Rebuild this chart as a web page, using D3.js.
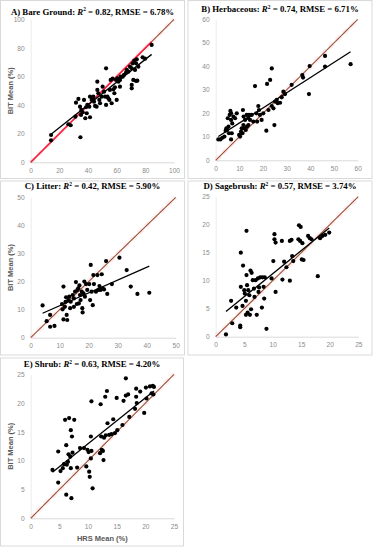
<!DOCTYPE html>
<html>
<head>
<meta charset="utf-8">
<script src="https://cdn.jsdelivr.net/npm/d3@7"></script>
<style>
  body { margin: 0; background: #fff; }
  svg { display: block; }
  .tick-label { font-family: "Liberation Sans", Arial, sans-serif; font-size: 6.6px; fill: #8c8c8c; }
  .axis-title { font-family: "Liberation Sans", Arial, sans-serif; font-size: 7.5px; font-weight: bold; fill: #595959; }
  .panel-title { font-family: "Liberation Serif", "Times New Roman", serif; font-size: 8.8px; font-weight: bold; fill: #000; }
</style>
</head>
<body>
<svg width="373" height="550"></svg>
<script>
// panel labels and stats
const panelNames = ["A) Bare Ground: ", "B) Herbaceous: ", "C) Litter: ", "D) Sagebrush: ", "E) Shrub: "]
const r2Values = ["0.82", "0.74", "0.42", "0.57", "0.63"]
const rmseValues = ["6.78%", "6.71%", "5.90%", "3.74%", "4.20%"]
const axisMax = [100, 60, 50, 25, 25]
const tickStep = [20, 10, 10, 5, 5]

// fitted trend lines
const trendSlope = [0.795, 0.646, 0.457, 0.824, 0.797]
const trendIntercept = [8.37, 9.39, 6.83, 3.02, 4.97]

// A) bare ground
const bareHRS = [14.2,14.2,26.3,27.9,31.2,31.6,33.3,34.4,34.7,35.3,35.1,36.3,37.2,38.1,38.6,39.5,41.4,40.9,42.6,43.3,43.7,44.2,44.9,46.0,46.5,46.5,47.2,47.9,48.4,49.5,50.2,51.2,51.9,52.6,52.6,53.5,54.2,54.9,55.8,56.5,57.2,57.7,58.4,58.8,59.5,60.5,61.2,62.3,62.8,64.2,65.1,66.5,67.0,68.1,69.3,70.5,71.2,70.5,70.5,71.6,72.3,72.8,73.5,74.0,73.5,74.4,75.1,78.1,79.8,84.4,60.0,62.3,55.3,41.4,39.1]
const bareBIT = [19.1,15.4,26.6,25.9,31.9,41.7,44.3,38.9,17.5,36.6,33.1,35.0,43.6,30.8,38.5,40.1,31.5,38.9,43.6,44.8,45.9,42.4,39.4,38.9,56.4,50.6,48.3,43.6,41.3,45.9,52.9,49.4,45.9,65.7,40.1,45.9,44.8,43.6,57.6,41.3,58.5,51.0,48.3,52.4,57.6,58.7,56.4,57.6,59.9,59.9,61.1,62.7,64.6,63.4,66.9,65.7,69.2,54.1,51.7,57.6,71.1,64.6,69.2,72.0,56.9,57.1,66.9,73.4,72.5,82.1,43.6,52.9,50.6,45.9,34.3]

// B) herbaceous
const herbHRS = [1.1,2.0,2.8,3.7,4.2,4.8,5.1,5.4,5.6,5.9,6.2,6.5,6.5,6.8,6.5,7.0,7.5,8.2,8.9,9.9,10.3,10.7,11.0,11.3,11.5,11.8,12.1,12.4,12.7,13.1,13.2,13.8,14.1,14.5,15.2,15.9,16.6,17.2,17.5,18.0,18.3,18.7,19.4,20.1,21.4,21.7,22.3,23.0,23.7,23.7,24.4,24.8,25.1,25.8,26.2,27.2,27.9,28.6,29.3,32.1,36.6,36.9,39.4,39.7,46.2,46.2,57.0,13.8,11.7,4.5]
const herbBIT = [8.9,8.9,9.6,10.1,12.6,12.9,17.9,14.3,11.5,19.3,21.0,20.0,17.2,11.5,8.9,15.7,18.6,17.9,20.0,10.8,10.1,12.2,13.6,11.5,21.4,18.6,13.6,17.2,12.9,19.3,14.3,17.9,19.3,17.2,19.3,16.5,31.6,20.0,16.5,23.1,21.4,19.3,17.2,20.0,12.6,32.5,21.4,34.2,39.1,23.1,22.1,15.0,25.0,25.7,24.3,24.5,26.8,29.2,28.2,32.1,36.3,35.2,28.2,40.1,39.9,44.4,40.9,15.0,15.0,13.6]

// C) litter
const litterHRS = [4.1,5.5,6.7,6.7,8.2,10.8,11.0,11.3,11.3,11.8,12.0,12.2,12.4,12.6,13.0,13.3,13.6,13.8,14.5,14.9,14.9,15.3,15.6,15.9,16.1,16.4,16.6,16.8,17.0,17.2,17.6,17.8,17.9,18.2,18.5,18.7,19.1,19.5,20.2,20.5,20.7,21.0,21.4,21.6,21.8,22.5,23.0,23.3,23.7,24.1,24.5,24.8,25.3,26.0,26.4,28.0,30.6,33.1,34.5,36.8,40.9]
const litterBIT = [11.5,5.9,8.1,3.9,4.2,12.0,10.1,18.2,6.5,11.0,12.8,14.4,8.1,6.3,13.4,14.6,10.5,12.8,15.2,14.0,11.0,16.4,19.8,12.0,17.0,17.6,12.2,18.6,15.2,13.4,16.4,10.5,9.0,15.8,20.0,14.6,19.1,17.0,19.1,13.4,25.9,16.4,11.6,22.3,19.1,16.4,22.3,17.0,18.4,17.0,22.6,17.6,17.2,27.3,15.6,19.1,28.5,24.1,18.2,15.6,16.0]

// D) sagebrush
const sageHRS = [1.8,2.7,2.9,3.6,4.3,4.3,4.4,4.4,4.7,4.8,5.0,5.1,5.3,5.3,5.4,5.4,5.5,5.6,5.7,5.9,6.0,6.1,6.2,6.3,6.5,6.7,6.8,7.0,7.2,7.4,7.5,7.6,7.8,8.1,8.2,8.4,8.5,8.6,8.9,9.8,10.1,10.3,10.3,10.5,10.5,11.6,11.7,12.0,12.4,13.0,13.0,13.3,13.4,13.6,14.5,14.6,14.8,14.9,15.1,15.2,15.4,16.2,16.5,16.8,17.9,18.3,18.7,19.2,19.9]
const sageBIT = [0.4,6.4,2.4,5.2,2.0,1.7,8.9,15.0,5.5,12.7,8.3,7.7,3.9,6.4,18.9,11.0,9.2,4.3,8.3,7.4,3.9,11.8,4.9,11.4,10.1,8.6,7.1,10.1,3.9,10.4,8.0,8.8,10.6,5.2,10.6,8.9,6.8,10.6,1.4,10.4,13.5,18.3,17.4,16.8,8.0,17.1,10.2,13.4,12.4,17.1,10.0,17.3,14.4,13.5,17.4,19.9,17.1,19.6,13.8,16.7,13.7,18.0,17.6,17.4,10.8,17.6,18.0,18.2,18.6]

// E) shrub
const shrubHRS = [3.8,4.8,4.8,5.2,5.6,5.8,6.0,6.2,6.2,6.3,6.5,6.6,6.7,6.9,7.0,7.0,7.1,7.2,7.3,7.6,8.1,8.6,9.3,9.7,9.9,10.1,10.2,10.3,10.5,10.5,10.6,10.6,10.8,12.1,12.2,12.3,12.4,12.6,12.7,12.8,13.0,13.1,13.3,13.4,13.7,14.1,14.4,14.7,15.0,15.1,16.0,16.2,16.6,16.6,17.0,17.2,18.2,18.4,18.4,18.5,19.1,19.8,20.1,20.2,20.8,21.1,21.3,21.5,21.4]
const shrubBIT = [8.4,11.6,6.2,8.2,8.7,9.4,17.1,12.7,4.1,9.3,9.8,11.1,17.4,10.7,15.3,8.7,3.5,14.2,11.4,17.1,8.8,12.2,12.2,9.0,11.9,11.5,8.1,7.2,14.2,10.4,20.3,11.7,5.2,11.3,19.8,14.2,11.9,11.7,10.1,14.0,21.1,14.4,22.1,16.5,14.5,14.6,17.2,14.8,20.9,15.3,16.2,20.4,24.3,21.3,21.5,17.6,19.0,22.5,21.1,20.0,22.0,18.3,22.7,20.8,22.9,21.7,23.0,22.8,21.5]

const seriesX = [bareHRS, herbHRS, litterHRS, sageHRS, shrubHRS]
const seriesY = [bareBIT, herbBIT, litterBIT, sageBIT, shrubBIT]

// panel geometry: plot box, frame box, title y, which axis titles
const panels = [
    {x0: 30.7, x1: 174,   y0: 162.3, y1: 19.3,  frame: [0.5, 0.5, 184, 178],   titleY: 14.5, yTitle: true,  xTitle: false, redRange: true},
    {x0: 215.7, x1: 357.7, y0: 160.3, y1: 19.3, frame: [188, 0.5, 184, 178],   titleY: 12,   yTitle: false, xTitle: false},
    {x0: 30.7, x1: 175.7, y0: 337.7, y1: 197.3, frame: [0.5, 181, 184, 174],   titleY: 189,  yTitle: true,  xTitle: false},
    {x0: 215.7, x1: 358.3, y0: 336.7, y1: 196.7, frame: [188, 181, 184, 174],  titleY: 189,  yTitle: false, xTitle: false},
    {x0: 30.7, x1: 174,   y0: 518.3, y1: 374.3, frame: [0.5, 358, 183, 188],   titleY: 367,  yTitle: true,  xTitle: true}
]

const svg = d3.select("svg")

panels.forEach((p, i) => {
    const g = svg.append("g").attr("class", "panel")
    const xs = seriesX[i]
    const ys = seriesY[i]

    g.append("rect")
        .attr("x", p.frame[0]).attr("y", p.frame[1])
        .attr("width", p.frame[2]).attr("height", p.frame[3])
        .attr("fill", "#fff")
        .attr("stroke", "#d9d9d9")
        .attr("stroke-width", 1)

    const scaleX = d3.scaleLinear().domain([0, axisMax[i]]).range([p.x0, p.x1])
    const scaleY = d3.scaleLinear().domain([0, axisMax[i]]).range([p.y0, p.y1])
    const ticks = d3.range(0, axisMax[i] + tickStep[i] / 2, tickStep[i])

    // axis lines
    const axisX = d3.axisBottom(scaleX).tickValues(ticks).tickSize(0).tickPadding(6)
    const axisY = d3.axisLeft(scaleY).tickValues(ticks).tickSize(0).tickPadding(6)
    const gx = g.append("g").attr("transform", `translate(0,${p.y0})`).call(axisX)
    const gy = g.append("g").attr("transform", `translate(${p.x0},0)`).call(axisY)
    gx.select(".domain").attr("stroke", "#d9d9d9")
    gy.select(".domain").attr("stroke", "#ececec")
    gx.selectAll("text").attr("class", "tick-label").attr("font-size", null).attr("font-family", null).attr("fill", null)
    gy.selectAll("text").attr("class", "tick-label").attr("font-size", null).attr("font-family", null).attr("fill", null)

    // 1:1 line
    const line = d3.line().x(d => scaleX(d)).y(d => scaleY(d))
    g.append("path")
        .datum([0, axisMax[i]])
        .attr("d", line)
        .attr("stroke", "#f9c8dc")
        .attr("stroke-width", 5)
        .attr("stroke-dasharray", "6,4")
        .attr("opacity", 0.3)
        .attr("fill", "none")
    g.append("path")
        .datum([0, axisMax[i]])
        .attr("d", line)
        .attr("stroke", "#9b4f2c")
        .attr("stroke-width", 1.1)
        .attr("fill", "none")
    if (p.redRange) {
        g.append("path")
            .datum([0, d3.max(xs)])
            .attr("d", line)
            .attr("stroke", "#ff1a3c")
            .attr("stroke-width", 1.5)
            .attr("fill", "none")
    }

    // points
    g.selectAll("circle.pt")
        .data(xs.map((x, k) => ({x: x, y: ys[k]})))
        .enter()
        .append("circle")
        .attr("class", "pt")
        .attr("cx", d => scaleX(d.x))
        .attr("cy", d => scaleY(d.y))
        .attr("r", 2.1)
        .attr("fill", "#000")

    // trend line
    const ext = d3.extent(xs)
    g.append("path")
        .datum(ext)
        .attr("d", d3.line()
            .x(d => scaleX(d))
            .y(d => scaleY(trendSlope[i] * d + trendIntercept[i])))
        .attr("stroke", "#000")
        .attr("stroke-width", 1.3)
        .attr("fill", "none")

    // title
    const cx = (p.frame[0] + p.frame[0] + p.frame[2]) / 2
    const title = g.append("text")
        .attr("class", "panel-title")
        .attr("x", cx)
        .attr("y", p.titleY)
        .attr("text-anchor", "middle")
    title.append("tspan").text(panelNames[i])
    title.append("tspan").attr("font-style", "italic").text("R")
    title.append("tspan").attr("font-size", "5.5px").attr("dy", -3.2).text("2")
    title.append("tspan").attr("dy", 3.2).text(" = " + r2Values[i] + ", RMSE = " + rmseValues[i])

    if (p.yTitle) {
        g.append("text")
            .attr("class", "axis-title")
            .attr("transform", `translate(${10},${(p.y0 + p.y1) / 2}) rotate(-90)`)
            .attr("text-anchor", "middle")
            .attr("dy", "0.35em")
            .text("BIT Mean (%)")
    }
    if (p.xTitle) {
        g.append("text")
            .attr("class", "axis-title")
            .attr("x", (p.x0 + p.x1) / 2)
            .attr("y", 541)
            .attr("text-anchor", "middle")
            .text("HRS Mean (%)")
    }
})
</script>
</body>
</html>
